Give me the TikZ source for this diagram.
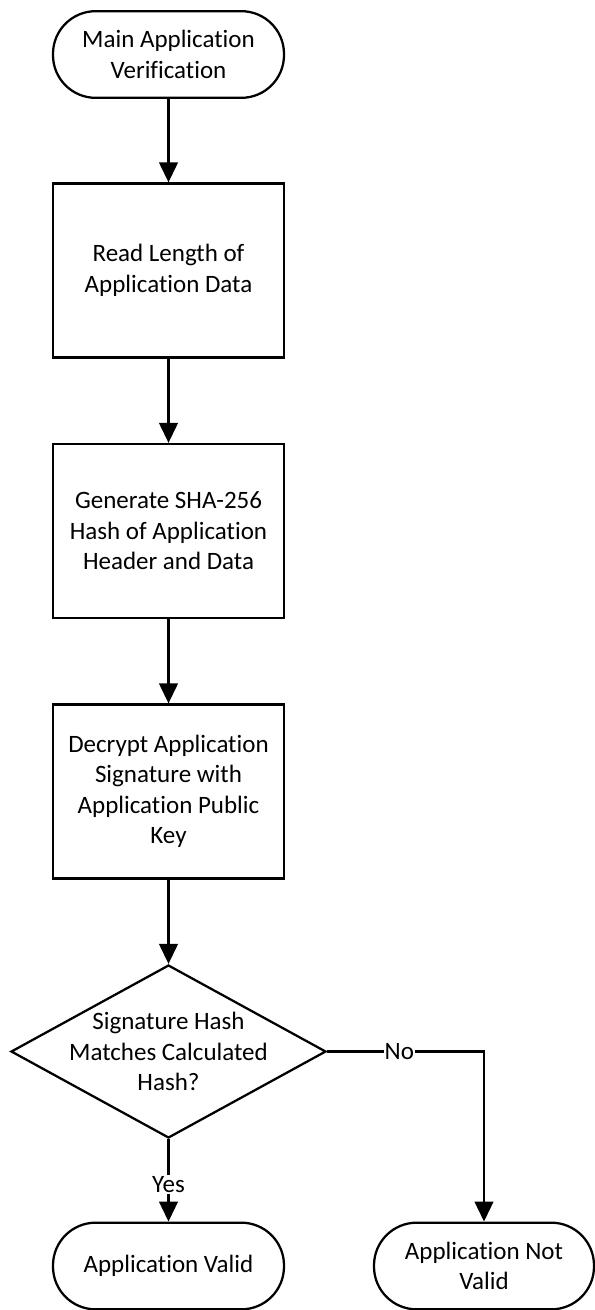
\documentclass[tikz,border=0pt]{standalone}
\usepackage{fontspec}
\setmainfont{Carlito}[Ligatures=CommonOff]
\usetikzlibrary{arrows.meta,shapes.geometric}
\begin{document}
\begin{tikzpicture}[x=0.75pt,y=-0.75pt,
  every node/.style={font=\fontsize{18.75}{22.9}\selectfont, align=center},
  line width=1.7pt,
  term/.style={draw, rectangle, rounded corners=32pt, minimum width=173.25pt, minimum height=65pt, inner sep=0pt},
  proc/.style={draw, rectangle, minimum width=173.25pt, minimum height=130.5pt, inner sep=0pt},
  dec/.style={draw, diamond, minimum width=236.25pt, minimum height=129.75pt, inner sep=0pt},
  flow/.style={-{Triangle[width=14pt,length=15pt]}},
  lbl/.style={fill=white, inner sep=0.8pt}]
\useasboundingbox (0,0) rectangle (594,1310);

\node[term] (start) at (168.5,54.5) {Main Application\\Verification};
\node[proc] (read) at (168.5,270.5) {Read Length of\\Application Data};
\node[proc] (hash) at (168.5,531) {Generate SHA-256\\Hash of Application\\Header and Data};
\node[proc] (decrypt) at (168.5,791.5) {Decrypt Application\\Signature with\\Application Public\\Key};
\node[dec] (match) at (168.5,1051.5) {};
\node (matchtext) at (168.5,1051.5) {Signature Hash\\Matches Calculated\\Hash?};
\node[term] (valid) at (168.5,1266) {Application Valid};
\node[term, minimum width=165pt] (invalid) at (484,1266) {Application Not\\Valid};

\draw[flow] (start) -- (read);
\draw[flow] (read) -- (hash);
\draw[flow] (hash) -- (decrypt);
\draw[flow] (decrypt) -- (match);
\draw[flow] (match.south) -- node[lbl, pos=0.55] {Yes} (valid.north);
\draw[flow] (match.east) -| node[lbl, pos=0.23] {No} (invalid.north);
\end{tikzpicture}
\end{document}
